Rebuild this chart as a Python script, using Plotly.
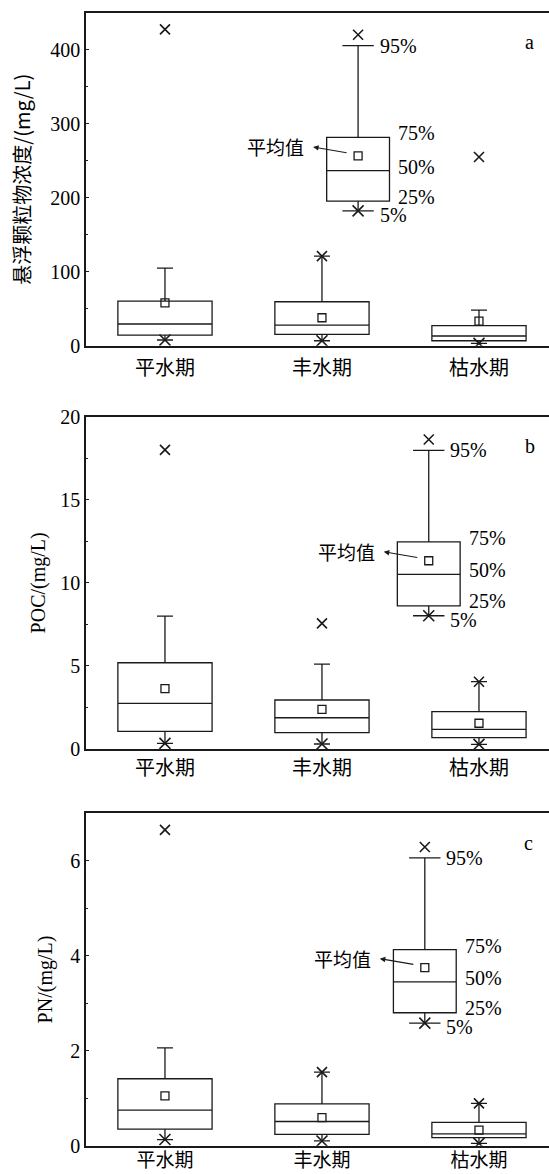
import plotly.graph_objects as go

# ---------------- data ----------------
periods = ["平水期", "丰水期", "枯水期"]
pos = [0, 1, 2]

# panel a: suspended particulate matter (mg/L)
spm_p05 = [7.7, 6.7, 3.2]
spm_q25 = [14.4, 15.4, 6.7]
spm_med = [29.3, 27.9, 13.1]
spm_q75 = [60.3, 59.4, 27.0]
spm_p95 = [104.9, 121.0, 48.2]
spm_mean = [58.0, 37.8, 33.3]
spm_max = [427.4, 121.0, 255.0]
spm_min = [7.7, 6.7, 3.2]

# panel b: POC (mg/L)
poc_p05 = [0.34, 0.30, 0.28]
poc_q25 = [1.06, 0.98, 0.68]
poc_med = [2.75, 1.88, 1.18]
poc_q75 = [5.19, 2.95, 2.25]
poc_p95 = [8.0, 5.11, 4.05]
poc_mean = [3.63, 2.39, 1.55]
poc_max = [18.0, 7.56, 4.05]
poc_min = [0.34, 0.30, 0.28]

# panel c: PN (mg/L)
pn_p05 = [0.13, 0.10, 0.05]
pn_q25 = [0.35, 0.24, 0.17]
pn_med = [0.75, 0.51, 0.25]
pn_q75 = [1.41, 0.88, 0.49]
pn_p95 = [2.06, 1.55, 0.89]
pn_mean = [1.05, 0.59, 0.33]
pn_max = [6.65, 1.55, 0.89]
pn_min = [0.13, 0.10, 0.05]

# key (explanatory) boxes: [x, p05, q25, med, q75, p95, mean, max, min]
key_a = [1.23, 182.2, 195.3, 236.7, 281.6, 405.4, 256.4, 420.2, 182.2]
key_b = [1.68, 8.02, 8.62, 10.51, 12.47, 17.97, 11.33, 18.63, 8.02]
key_c = [1.655, 2.58, 2.80, 3.45, 4.13, 6.06, 3.75, 6.29, 2.58]

key_labels = ["95%", "75%", "50%", "25%", "5%"]
mean_label = "平均值"

y_titles = ["悬浮颗粒物浓度/(mg/L)", "POC/(mg/L)", "PN/(mg/L)"]
y_ranges = [[0, 450], [0, 20], [0, 7]]
y_dticks = [100, 5, 2]
y_minor = [50, 2.5, 1]
panel_tags = ["a", "b", "c"]

# ---------------- layout constants ----------------
W, H = 549, 1174
LINE = "#1a1a1a"
FONT = "Liberation Serif, Times New Roman, Noto Sans CJK SC"
CJK = "Noto Sans CJK SC, Liberation Serif"

x_left = 86 / W
panels_px = [(12.7, 345.7), (416.7, 749.0), (813.3, 1145.7)]
tag_px = [(529.7, 41.7), (530.0, 446.0), (528.0, 843.3)]
title_standoff = [14, 9, 12]
xlabel_standoff = [4, 0, -3]
xlabel_size = [20, 20, 19]

fig = go.Figure()

datasets = [
    (spm_p05, spm_q25, spm_med, spm_q75, spm_p95, spm_mean, spm_max, spm_min, key_a),
    (poc_p05, poc_q25, poc_med, poc_q75, poc_p95, poc_mean, poc_max, poc_min, key_b),
    (pn_p05, pn_q25, pn_med, pn_q75, pn_p95, pn_mean, pn_max, pn_min, key_c),
]

annotations = []
for i, (p05, q25, med, q75, p95, mean, mx, mn, key) in enumerate(datasets):
    xa = "x" if i == 0 else f"x{i+1}"
    ya = "y" if i == 0 else f"y{i+1}"
    fig.add_trace(go.Box(
        x=pos, q1=q25, median=med, q3=q75, lowerfence=p05, upperfence=p95,
        width=0.6, whiskerwidth=0.17, boxpoints=False,
        line=dict(color=LINE, width=1.3), fillcolor="white",
        xaxis=xa, yaxis=ya, showlegend=False, hoverinfo="skip"))
    kx = key[0]
    fig.add_trace(go.Box(
        x=[kx], q1=[key[2]], median=[key[3]], q3=[key[4]],
        lowerfence=[key[1]], upperfence=[key[5]],
        width=0.4, whiskerwidth=0.5, boxpoints=False,
        line=dict(color=LINE, width=1.3), fillcolor="white",
        xaxis=xa, yaxis=ya, showlegend=False, hoverinfo="skip"))
    fig.add_trace(go.Scatter(
        x=pos + [kx], y=mx + [key[7]], mode="markers",
        marker=dict(symbol="x-thin", size=10, line=dict(color=LINE, width=1.6)),
        xaxis=xa, yaxis=ya, showlegend=False, hoverinfo="skip"))
    fig.add_trace(go.Scatter(
        x=pos + [kx], y=mn + [key[8]], mode="markers",
        marker=dict(symbol="x-thin", size=11, line=dict(color=LINE, width=1.6)),
        xaxis=xa, yaxis=ya, showlegend=False, hoverinfo="skip"))
    fig.add_trace(go.Scatter(
        x=pos + [kx], y=mean + [key[6]], mode="markers",
        marker=dict(symbol="square-open", size=8, color=LINE, line=dict(color=LINE, width=1.3)),
        xaxis=xa, yaxis=ya, showlegend=False, hoverinfo="skip"))

    lab_vals = [key[5], key[4], key[3], key[2], key[1]]
    lab_xshift = [19.5, 38, 38, 38, 19.5]
    lab_yshift = [0, 4, 4, 4.5, -4.3]
    for t, v, xs, ys in zip(key_labels, lab_vals, lab_xshift, lab_yshift):
        annotations.append(dict(
            x=kx, y=v, xref=xa, yref=ya, text=t, showarrow=False,
            xanchor="left", yanchor="middle", xshift=xs, yshift=ys,
            font=dict(family=FONT, size=20, color="black")))
    annotations.append(dict(
        x=kx, y=key[6], xref=xa, yref=ya, text=mean_label, showarrow=False,
        xanchor="right", yanchor="middle", xshift=-52, yshift=9,
        font=dict(family=CJK, size=19, color="black")))
    annotations.append(dict(
        x=kx, y=key[6], xref=xa, yref=ya, text="", showarrow=True,
        xshift=-45, yshift=9, ax=35, ay=6, axref="pixel", ayref="pixel",
        arrowhead=2, arrowsize=1, arrowwidth=1.1, arrowcolor=LINE))
    tx, ty = tag_px[i]
    annotations.append(dict(
        x=tx / W, y=1 - ty / H, xref="paper", yref="paper", text=panel_tags[i],
        showarrow=False, xanchor="center", yanchor="middle",
        font=dict(family=FONT, size=20, color="black")))

layout = dict(
    width=W, height=H, margin=dict(l=0, r=0, t=0, b=0),
    paper_bgcolor="white", plot_bgcolor="white", boxmode="overlay",
    showlegend=False, font=dict(family=FONT, size=20, color="black"),
    annotations=annotations,
)
for i in range(3):
    top, bot = panels_px[i]
    xk = "xaxis" if i == 0 else f"xaxis{i+1}"
    yk = "yaxis" if i == 0 else f"yaxis{i+1}"
    yanchor = "y" if i == 0 else f"y{i+1}"
    xanchor = "x" if i == 0 else f"x{i+1}"
    layout[xk] = dict(
        domain=[x_left, 1.0], range=[-0.503, 2.446], anchor=yanchor,
        tickvals=pos, ticktext=periods, ticks="", showgrid=False, zeroline=False,
        showline=True, mirror=True, linecolor=LINE, linewidth=1.5,
        ticklabelstandoff=xlabel_standoff[i],
        tickfont=dict(family=CJK, size=xlabel_size[i], color="black"), automargin=False)
    layout[yk] = dict(
        domain=[1 - bot / H, 1 - top / H], range=y_ranges[i], anchor=xanchor,
        dtick=y_dticks[i], tick0=0, ticks="inside", ticklen=3, tickwidth=1.2,
        tickcolor=LINE, showgrid=False, zeroline=False,
        showline=True, mirror=False, linecolor=LINE, linewidth=1.5,
        minor=dict(dtick=y_minor[i], ticks="inside", ticklen=2, tickwidth=1, tickcolor=LINE),
        tickfont=dict(family=FONT, size=20, color="black"),
        title=dict(text=y_titles[i], standoff=title_standoff[i],
                   font=dict(family=FONT if i else CJK, size=20, color="black")),
        automargin=False)

fig.update_layout(**layout)
fig.write_html("out.html")
